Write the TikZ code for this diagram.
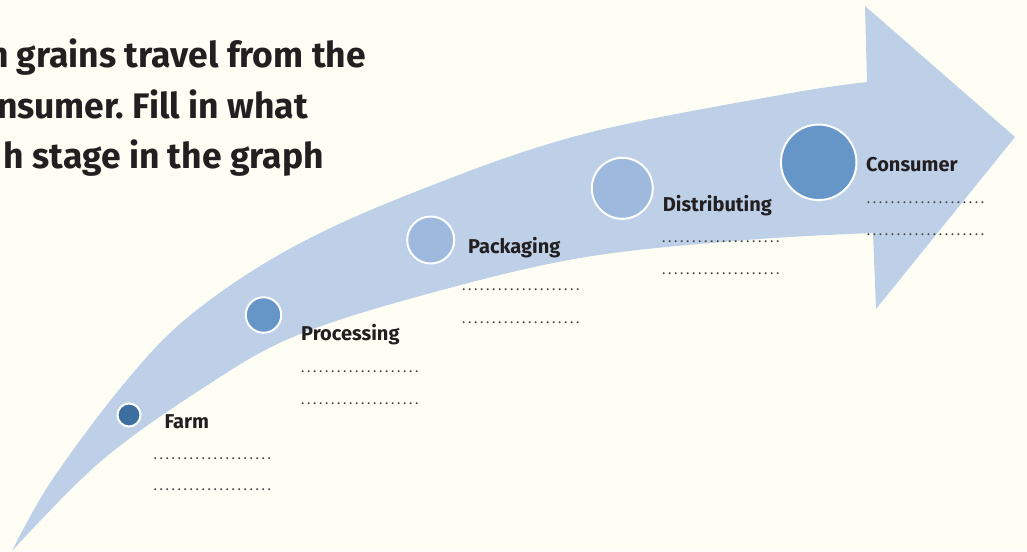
\documentclass[tikz,border=0pt]{standalone}
\usepackage{fontspec}
\setmainfont{Fira Sans}
\frenchspacing
\definecolor{bgcol}{HTML}{FEFEF5}
\definecolor{arrowcol}{HTML}{BDD0E8}
\definecolor{darkdot}{HTML}{3C6F9F}
\definecolor{middot}{HTML}{6596C7}
\definecolor{lightdot}{HTML}{9DBADE}
\definecolor{ink}{HTML}{231F20}
\newcommand\blankdots{\hbox to 120pt{\cleaders\hbox to 6pt{\hss.\hss}\hfill}}
\begin{document}
\begin{tikzpicture}[x=1pt,y=-1pt,
  stagedot/.style={circle, draw=white, line width=2pt, inner sep=0pt},
  stagelabel/.style={anchor=base west, inner sep=0pt, text=ink, font=\fontsize{20}{24}\selectfont\bfseries},
  blankline/.style={anchor=base west, inner sep=0pt, text=ink!85, font=\fontsize{14}{16}\selectfont},
  titleline/.style={anchor=base east, inner sep=0pt, text=ink, font=\fontsize{35.5}{42}\selectfont\bfseries}]
\useasboundingbox (0,0) rectangle (1027,551);
\fill[bgcol] (0,0) rectangle (1027,551);
\begin{scope}
\clip (0,0) rectangle (1027,551);
% big curved arrow
\fill[arrowcol] plot[smooth, tension=0.6] coordinates {(12,551) (52,480) (127,380) (193,313) (293,247) (420,190) (580,135) (780,95) (867,82)}
  -- (865,6) -- (1015,137) -- (876,309) --
  plot[smooth, tension=0.6] coordinates {(873,233) (747,240) (580,258) (420,296) (293,337) (203,388) (100,462) (12,551)} -- cycle;
% title (cut at the left edge, as in the reference)
\node[titleline] (t1) at (366,67) {n grains travel from the};
\node[titleline] (t2) at (308,118) {nsumer. Fill in what};
\node[titleline] (t3) at (324,168) {h stage in the graph};
\end{scope}
% stages
\node[stagedot, fill=darkdot, minimum size=23pt] (farm) at (129,415) {};
\node[stagedot, fill=middot, minimum size=35.5pt] (proc) at (263.5,315) {};
\node[stagedot, fill=lightdot, minimum size=47pt] (pack) at (430.7,240) {};
\node[stagedot, fill=lightdot, minimum size=61pt] (dist) at (622.3,188.3) {};
\node[stagedot, fill=middot, minimum size=75.5pt] (cons) at (818.7,162.3) {};
\node[stagelabel] (farml) at (164.3,428) {Farm};
\node[stagelabel] (procl) at (301,340.7) {Processing};
\node[stagelabel] (packl) at (468,253) {Packaging};
\node[stagelabel] (distl) at (662.7,211.7) {Distributing};
\node[stagelabel] (consl) at (866,171.7) {Consumer};
\node[blankline] (farma) at (152,459) {\blankdots};
\node[blankline] (farmb) at (152,490.5) {\blankdots};
\node[blankline] (proca) at (299.7,372.5) {\blankdots};
\node[blankline] (procb) at (299.7,404) {\blankdots};
\node[blankline] (packa) at (460.7,290.8) {\blankdots};
\node[blankline] (packb) at (460.7,323) {\blankdots};
\node[blankline] (dista) at (660.7,242.2) {\blankdots};
\node[blankline] (distb) at (660.7,274) {\blankdots};
\node[blankline] (consa) at (865.3,203.8) {\blankdots};
\node[blankline] (consb) at (865.3,235.8) {\blankdots};
\end{tikzpicture}
\end{document}
